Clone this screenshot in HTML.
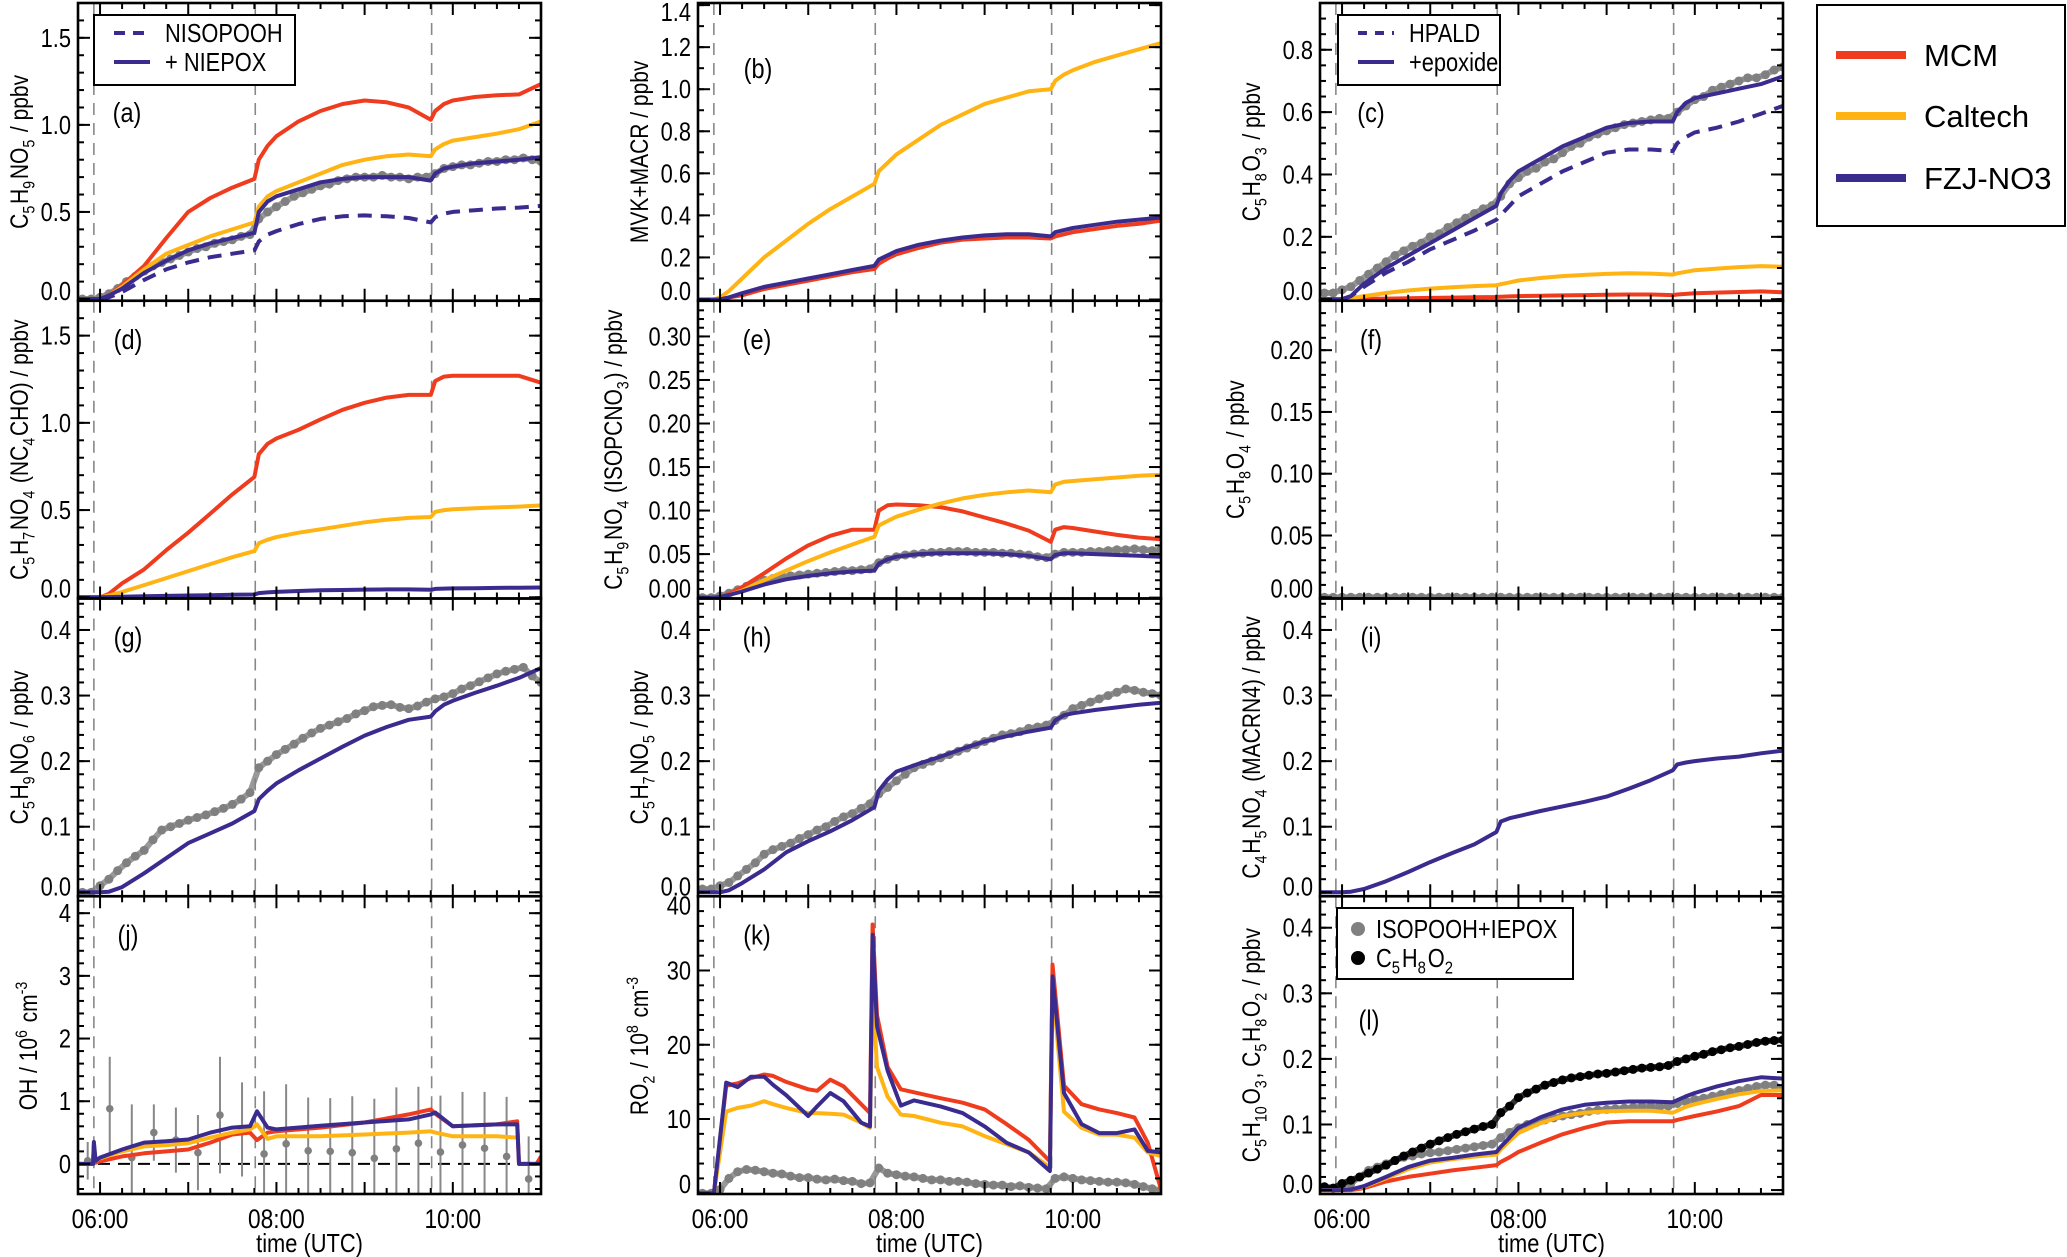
<!DOCTYPE html>
<html><head><meta charset="utf-8"><style>
html,body{margin:0;padding:0;background:#fff;}
svg{display:block;font-family:"Liberation Sans",Arial,sans-serif;}
</style></head><body>
<svg id="fig" xmlns="http://www.w3.org/2000/svg" width="2067" height="1257" viewBox="0 0 2067 1257">
<g>
<rect x="1817" y="5" width="248" height="221" fill="#fff" stroke="#000" stroke-width="2"/>
<line x1="1836" y1="55" x2="1906" y2="55" stroke="#f03c1e" stroke-width="8"/>
<text class="nc" x="1924" y="66" font-size="31">MCM</text>
<line x1="1836" y1="116" x2="1906" y2="116" stroke="#ffb414" stroke-width="8"/>
<text class="nc" x="1924" y="127" font-size="31">Caltech</text>
<line x1="1836" y1="178" x2="1906" y2="178" stroke="#3a2b8f" stroke-width="8"/>
<text class="nc" x="1924" y="189" font-size="31">FZJ-NO3</text>
</g>
</svg>
<script>
// ---- shared time arrays (hours UTC) ----
const T_MOD=[5.75,5.93,6.0,6.1,6.25,6.5,6.75,7.0,7.25,7.5,7.75,7.8,7.9,8.0,8.25,8.5,8.75,9.0,9.25,9.5,9.75,9.8,9.9,10.0,10.25,10.5,10.75,11.0];
const T_M=[5.8,5.9,6.0,6.1,6.2,6.3,6.4,6.5,6.6,6.7,6.8,6.9,7.0,7.1,7.2,7.3,7.4,7.5,7.6,7.7,7.8,7.9,8.0,8.1,8.2,8.3,8.4,8.5,8.6,8.7,8.8,8.9,9.0,9.1,9.2,9.3,9.4,9.5,9.6,9.7,9.8,9.9,10.0,10.1,10.2,10.3,10.4,10.5,10.6,10.7,10.8,10.9,11.0];
const DASH_T=[5.93,7.76,9.76];
const X_TICKS=[6,8,10];
const X_TICK_LABELS=["06:00","08:00","10:00"];
// (a)
const A_MCM=[0,0,0,0.02,0.08,0.19,0.35,0.50,0.58,0.64,0.69,0.80,0.88,0.935,1.02,1.08,1.12,1.14,1.13,1.10,1.03,1.08,1.12,1.14,1.16,1.17,1.175,1.235];
const A_CAL=[0,0,0,0.02,0.07,0.17,0.26,0.31,0.36,0.40,0.44,0.53,0.59,0.62,0.67,0.72,0.77,0.80,0.82,0.83,0.82,0.86,0.89,0.91,0.93,0.95,0.975,1.02];
const A_FZJ=[0,0,0,0.02,0.06,0.15,0.22,0.28,0.32,0.35,0.38,0.50,0.56,0.59,0.63,0.67,0.69,0.70,0.70,0.70,0.68,0.72,0.75,0.76,0.78,0.79,0.80,0.815];
const A_ALT=[0,0,0,0.01,0.04,0.11,0.17,0.21,0.24,0.26,0.28,0.33,0.37,0.39,0.43,0.46,0.475,0.48,0.475,0.465,0.44,0.47,0.49,0.50,0.51,0.52,0.525,0.535];
const A_MEAS=[0,0,0.01,0.03,0.06,0.10,0.13,0.16,0.19,0.21,0.23,0.25,0.27,0.29,0.30,0.32,0.33,0.34,0.36,0.37,0.46,0.50,0.53,0.56,0.59,0.61,0.63,0.65,0.66,0.68,0.69,0.70,0.70,0.70,0.71,0.70,0.70,0.69,0.70,0.70,0.72,0.75,0.76,0.77,0.77,0.78,0.79,0.79,0.80,0.80,0.81,0.80,0.79];
// (b)
const B_MCM=[0,0,0,0.01,0.02,0.05,0.07,0.09,0.11,0.13,0.145,0.17,0.195,0.215,0.245,0.27,0.285,0.29,0.295,0.295,0.29,0.30,0.31,0.32,0.335,0.35,0.36,0.375];
const B_CAL=[0,0,0.01,0.04,0.10,0.20,0.28,0.36,0.43,0.49,0.55,0.61,0.65,0.69,0.76,0.83,0.88,0.93,0.96,0.99,1.00,1.04,1.07,1.09,1.13,1.16,1.19,1.22];
const B_FZJ=[0,0,0,0.01,0.03,0.06,0.08,0.10,0.12,0.14,0.16,0.19,0.21,0.23,0.26,0.28,0.295,0.305,0.31,0.31,0.30,0.32,0.33,0.34,0.355,0.37,0.38,0.39];
// (c)
const C_MCM=[0,0,0,0,0.001,0.002,0.003,0.004,0.005,0.006,0.007,0.008,0.009,0.01,0.011,0.012,0.013,0.014,0.015,0.015,0.013,0.015,0.017,0.019,0.021,0.023,0.025,0.022];
const C_CAL=[0,0,0,0.003,0.01,0.02,0.028,0.034,0.038,0.042,0.045,0.048,0.054,0.06,0.068,0.074,0.078,0.081,0.083,0.082,0.079,0.083,0.088,0.093,0.098,0.103,0.106,0.104];
const C_FZJ=[0,0,0,0.01,0.05,0.10,0.14,0.18,0.22,0.26,0.30,0.34,0.38,0.41,0.45,0.49,0.52,0.55,0.565,0.57,0.57,0.60,0.63,0.645,0.66,0.675,0.69,0.715];
const C_ALT=[0,0,0,0.01,0.04,0.085,0.12,0.16,0.19,0.22,0.255,0.27,0.30,0.33,0.37,0.41,0.44,0.47,0.48,0.48,0.475,0.50,0.52,0.535,0.55,0.57,0.595,0.62];
const C_MEAS=[0.02,0.02,0.03,0.04,0.06,0.08,0.10,0.12,0.14,0.155,0.17,0.18,0.20,0.21,0.23,0.245,0.26,0.275,0.29,0.30,0.33,0.37,0.39,0.41,0.42,0.44,0.45,0.47,0.49,0.50,0.52,0.53,0.54,0.55,0.56,0.565,0.57,0.575,0.58,0.58,0.60,0.62,0.64,0.65,0.67,0.68,0.69,0.70,0.71,0.71,0.72,0.735,0.745];
// (d)
const D_MCM=[0,0,0,0.02,0.08,0.16,0.27,0.37,0.48,0.59,0.69,0.82,0.88,0.91,0.96,1.02,1.075,1.115,1.145,1.16,1.16,1.24,1.265,1.27,1.27,1.27,1.27,1.23];
const D_CAL=[0,0,0,0.01,0.03,0.07,0.11,0.15,0.19,0.23,0.265,0.31,0.33,0.345,0.37,0.39,0.41,0.43,0.445,0.455,0.46,0.49,0.50,0.505,0.51,0.515,0.52,0.527];
const D_FZJ=[0,0,0,0.001,0.003,0.006,0.008,0.01,0.012,0.014,0.016,0.024,0.028,0.031,0.036,0.04,0.042,0.044,0.045,0.045,0.043,0.048,0.05,0.051,0.052,0.054,0.055,0.056];
// (e)
const E_MCM=[0,0,0.001,0.004,0.012,0.028,0.045,0.06,0.071,0.078,0.078,0.100,0.106,0.107,0.106,0.104,0.099,0.092,0.085,0.077,0.064,0.078,0.081,0.080,0.076,0.072,0.069,0.067];
const E_CAL=[0,0,0.001,0.003,0.008,0.02,0.031,0.042,0.052,0.061,0.07,0.083,0.088,0.093,0.101,0.108,0.114,0.118,0.121,0.123,0.121,0.130,0.133,0.134,0.136,0.138,0.140,0.141];
const E_FZJ=[0,0,0.001,0.003,0.007,0.015,0.021,0.025,0.028,0.030,0.031,0.039,0.044,0.047,0.050,0.051,0.051,0.051,0.050,0.048,0.044,0.049,0.051,0.051,0.050,0.049,0.048,0.047];
const E_MEAS=[0,0,0.002,0.005,0.009,0.013,0.017,0.02,0.022,0.024,0.025,0.026,0.027,0.028,0.029,0.030,0.031,0.031,0.032,0.033,0.040,0.044,0.047,0.049,0.050,0.051,0.052,0.052,0.053,0.053,0.053,0.052,0.052,0.052,0.051,0.051,0.050,0.049,0.047,0.046,0.050,0.052,0.052,0.052,0.053,0.053,0.054,0.055,0.055,0.056,0.055,0.054,0.055];
// (f)
const F_MEAS=[0,0,0,0,0,0,0,0,0,0,0,0,0,0,0,0,0,0,0,0,0,0,0,0,0,0,0,0,0,0,0,0,0,0,0,0,0,0,0,0,0,0,0,0,0,0,0,0,0,0,0,0,0];
// (g)
const G_FZJ=[0,0,0,0.001,0.008,0.029,0.052,0.075,0.09,0.105,0.124,0.142,0.155,0.166,0.186,0.204,0.222,0.239,0.252,0.263,0.268,0.276,0.286,0.292,0.304,0.315,0.327,0.342];
const G_MEAS=[0,0,0.01,0.02,0.033,0.045,0.055,0.064,0.08,0.095,0.10,0.105,0.11,0.114,0.118,0.123,0.128,0.134,0.142,0.152,0.19,0.20,0.21,0.218,0.226,0.235,0.243,0.25,0.255,0.26,0.265,0.272,0.277,0.283,0.285,0.286,0.282,0.28,0.284,0.29,0.295,0.298,0.303,0.31,0.315,0.321,0.327,0.333,0.337,0.34,0.343,0.33,0.32];
// (h)
const H_FZJ=[0,0,0,0.003,0.014,0.035,0.061,0.078,0.093,0.11,0.13,0.155,0.172,0.184,0.196,0.207,0.219,0.23,0.238,0.245,0.251,0.262,0.27,0.273,0.278,0.282,0.286,0.289];
const H_MEAS=[0.005,0.005,0.01,0.015,0.025,0.035,0.045,0.058,0.065,0.07,0.075,0.082,0.088,0.095,0.10,0.108,0.115,0.12,0.128,0.135,0.15,0.16,0.17,0.18,0.19,0.195,0.20,0.205,0.21,0.215,0.22,0.225,0.23,0.235,0.24,0.242,0.245,0.25,0.252,0.255,0.262,0.27,0.28,0.285,0.29,0.295,0.30,0.305,0.31,0.308,0.305,0.303,0.30];
// (i)
const I_FZJ=[0,0,0,0.001,0.005,0.017,0.031,0.046,0.06,0.073,0.092,0.108,0.113,0.116,0.124,0.131,0.138,0.146,0.158,0.171,0.186,0.195,0.198,0.200,0.204,0.207,0.212,0.216];
// (j) OH
const T_OH=[5.75,5.92,5.93,5.95,6.0,6.25,6.5,6.75,7.0,7.25,7.5,7.7,7.78,7.9,8.0,8.5,9.0,9.5,9.75,9.8,10.0,10.5,10.73,10.75,10.95,11.0];
const J_FZJ=[0,0,0.35,0.05,0.1,0.23,0.34,0.36,0.39,0.5,0.58,0.6,0.84,0.58,0.55,0.61,0.66,0.71,0.79,0.82,0.6,0.63,0.63,0,0,0];
const J_MCM=[0,0,0.3,0.02,0.04,0.12,0.17,0.2,0.23,0.34,0.47,0.5,0.38,0.5,0.52,0.58,0.66,0.79,0.87,0.8,0.6,0.63,0.68,0,0,0.12];
const J_CAL=[0,0,0.3,0.05,0.09,0.2,0.28,0.3,0.33,0.42,0.5,0.55,0.63,0.4,0.44,0.44,0.47,0.5,0.52,0.5,0.44,0.44,0.42,null,null,null];
const J_MEAS_T=[5.86,6.11,6.36,6.61,6.86,7.11,7.36,7.61,7.86,8.11,8.36,8.61,8.86,9.11,9.36,9.61,9.86,10.11,10.36,10.61,10.86];
const J_MEAS=[0.05,0.88,0.1,0.5,0.38,0.18,0.78,0.55,0.16,0.32,0.21,0.2,0.18,0.09,0.24,0.33,0.19,0.3,0.25,0.12,-0.24];
const J_ERR=[0.3,0.83,0.85,0.45,0.52,0.6,0.93,0.75,1.0,0.95,0.85,0.85,0.9,0.95,0.98,0.9,0.9,0.85,0.9,0.95,0.68];
// (k) RO2
const T_RO2=[5.75,5.93,6.07,6.2,6.35,6.5,6.6,6.75,7.0,7.1,7.25,7.4,7.6,7.7,7.73,7.78,7.9,8.05,8.2,8.5,8.75,9.0,9.25,9.5,9.74,9.77,9.9,10.1,10.3,10.5,10.7,10.85,11.0];
const K_FZJ=[0,0,14.9,14.3,15.7,15.7,14.6,13.2,10.4,11.7,13.5,12.4,9.5,9.0,34.8,22.5,16.5,11.8,12.5,11.7,10.8,9.0,6.8,5.5,3.0,29.2,13.5,9.3,8.1,8.1,8.6,5.7,5.5];
const K_MCM=[0,0,14.5,14.8,15.5,16.0,15.8,15.0,14.0,13.8,15.3,14.4,12.0,10.8,36.2,24,17,14,13.6,12.8,12.2,11.3,9.3,7.2,4.3,30.8,14.5,12.0,11.3,10.8,10.2,6.8,0.5];
const K_CAL=[0,0,11.0,11.5,11.8,12.4,12.0,11.5,10.8,10.8,10.7,10.6,9.5,8.8,27.5,17,13,10.6,10.4,9.5,9.0,7.7,6.6,5.5,3.5,28,11,8.8,7.9,7.9,7.5,5.5,5.0];
const K_MEAS=[0,0,0.5,2.0,2.9,3.2,3.1,2.9,2.7,2.6,2.3,2.1,2.1,1.9,1.8,1.9,1.7,1.6,1.3,1.4,3.4,2.7,2.5,2.3,2.2,2.0,1.8,1.8,1.6,1.6,1.5,1.3,1.2,1.1,1.1,0.9,1.0,0.8,0.7,0.6,2.0,2.2,2.0,1.8,1.7,1.6,1.5,1.5,1.4,1.2,0.9,0.6,0.4];
// (l)
const L_MCM=[0,0,0,0,0.003,0.013,0.02,0.025,0.03,0.034,0.038,0.043,0.05,0.058,0.072,0.085,0.095,0.103,0.105,0.105,0.105,0.107,0.11,0.113,0.12,0.128,0.145,0.145];
const L_CAL=[0,0,0,0.001,0.005,0.018,0.032,0.042,0.047,0.051,0.054,0.062,0.075,0.087,0.102,0.113,0.118,0.120,0.121,0.121,0.118,0.121,0.127,0.131,0.139,0.146,0.151,0.152];
const L_FZJ=[0,0,0,0.001,0.006,0.02,0.035,0.045,0.049,0.054,0.058,0.066,0.08,0.095,0.111,0.123,0.13,0.133,0.135,0.135,0.134,0.137,0.143,0.148,0.158,0.166,0.172,0.17];
const L_MEAS=[0.005,0.003,0.005,0.01,0.02,0.03,0.035,0.04,0.045,0.05,0.052,0.055,0.057,0.058,0.06,0.062,0.064,0.066,0.068,0.07,0.08,0.088,0.095,0.1,0.103,0.107,0.11,0.113,0.115,0.117,0.12,0.122,0.123,0.124,0.125,0.126,0.127,0.127,0.127,0.128,0.132,0.135,0.138,0.14,0.143,0.146,0.149,0.152,0.155,0.158,0.16,0.16,0.155];
const L_MEAS2=[0.005,0.003,0.01,0.015,0.02,0.026,0.032,0.038,0.045,0.052,0.058,0.064,0.07,0.075,0.08,0.085,0.089,0.093,0.097,0.1,0.118,0.128,0.141,0.148,0.154,0.16,0.164,0.168,0.171,0.173,0.175,0.177,0.178,0.18,0.182,0.184,0.186,0.187,0.188,0.19,0.196,0.2,0.204,0.207,0.211,0.214,0.217,0.219,0.222,0.225,0.227,0.228,0.229];

const RED="#f03c1e", YEL="#ffb414", BLU="#3a2b8f", GRY="#808080";
const COL=[78,698,1320], W=463, TOP=[3,300.75,598.5,896.25], H=297.75;
const NS="http://www.w3.org/2000/svg";
const SQ=0.84;
const svg=document.getElementById('fig');
function mk(tag,attrs,parent){const e=document.createElementNS(NS,tag);for(const k in attrs)e.setAttribute(k,attrs[k]);(parent||svg).appendChild(e);return e;}
function richText(parent,str,fs){
  const re=/([_^])(-?\d+)|([^_^]+)/g;let m;
  while((m=re.exec(str))){
    if(m[3]){const s=mk('tspan',{},parent);s.textContent=m[3];}
    else{const sub=m[1]==='_';const d=sub?fs*0.25:-fs*0.4;
      const s=mk('tspan',{dy:d,'font-size':fs*0.68},parent);s.textContent=m[2];
      const r=mk('tspan',{dy:-d},parent);r.textContent='\u200a';}
  }
}
// compressed text: place via transform
function ctext(parent,x,y,attrs){const a=Object.assign({x:0,y:0,transform:'translate('+x+','+y+') scale('+SQ+',1)'},attrs);return mk('text',a,parent);}
const panels=[
 {id:'a',r:0,c:0,y:[-0.01,1.70],ticks:[0,0.5,1.0,1.5],dec:1,minor:0.1,title:'C_5H_9NO_5 / ppbv',tx:20,lab:[49,109],
  meas:[T_M,A_MEAS],lines:[[T_MOD,A_MCM,RED,''],[T_MOD,A_CAL,YEL,''],[T_MOD,A_ALT,BLU,'14 9'],[T_MOD,A_FZJ,BLU,'']]},
 {id:'b',r:0,c:1,y:[-0.006,1.41],ticks:[0,0.2,0.4,0.6,0.8,1.0,1.2,1.4],dec:1,minor:0.1,title:'MVK+MACR / ppbv',tx:640,lab:[60,65],
  lines:[[T_MOD,B_CAL,YEL,''],[T_MOD,B_MCM,RED,''],[T_MOD,B_FZJ,BLU,'']]},
 {id:'c',r:0,c:2,y:[-0.005,0.95],ticks:[0,0.2,0.4,0.6,0.8],dec:1,minor:0.05,title:'C_5H_8O_3 / ppbv',tx:1252,lab:[51,109],
  meas:[T_M,C_MEAS],lines:[[T_MOD,C_MCM,RED,''],[T_MOD,C_CAL,YEL,''],[T_MOD,C_ALT,BLU,'14 9'],[T_MOD,C_FZJ,BLU,'']]},
 {id:'d',r:1,c:0,y:[-0.007,1.70],ticks:[0,0.5,1.0,1.5],dec:1,minor:0.1,title:'C_5H_7NO_4 (NC_4CHO) / ppbv',tx:20,lab:[50,38],
  lines:[[T_MOD,D_MCM,RED,''],[T_MOD,D_CAL,YEL,''],[T_MOD,D_FZJ,BLU,'']]},
 {id:'e',r:1,c:1,y:[-0.001,0.341],ticks:[0,0.05,0.10,0.15,0.20,0.25,0.30],dec:2,minor:0.01,title:'C_5H_9NO_4 (ISOPCNO_3) / ppbv',tx:614,lab:[59,38],
  meas:[T_M,E_MEAS],lines:[[T_MOD,E_MCM,RED,''],[T_MOD,E_CAL,YEL,''],[T_MOD,E_FZJ,BLU,'']]},
 {id:'f',r:1,c:2,y:[-0.001,0.24],ticks:[0,0.05,0.10,0.15,0.20],dec:2,minor:0.01,title:'C_5H_8O_4 / ppbv',tx:1236,lab:[51,38],
  meas:[T_M,F_MEAS],lines:[]},
 {id:'g',r:2,c:0,y:[-0.006,0.448],ticks:[0,0.1,0.2,0.3,0.4],dec:1,minor:0.02,title:'C_5H_9NO_6 / ppbv',tx:20,lab:[50,38],
  meas:[T_M,G_MEAS],lines:[[T_MOD,G_FZJ,BLU,'']]},
 {id:'h',r:2,c:1,y:[-0.006,0.448],ticks:[0,0.1,0.2,0.3,0.4],dec:1,minor:0.02,title:'C_5H_7NO_5 / ppbv',tx:640,lab:[59,38],
  meas:[T_M,H_MEAS],lines:[[T_MOD,H_FZJ,BLU,'']]},
 {id:'i',r:2,c:2,y:[-0.006,0.448],ticks:[0,0.1,0.2,0.3,0.4],dec:1,minor:0.02,title:'C_4H_5NO_4 (MACRN4) / ppbv',tx:1252,lab:[51,38],
  lines:[[T_MOD,I_FZJ,BLU,'']]},
 {id:'j',r:3,c:0,y:[-0.48,4.27],ticks:[0,1,2,3,4],dec:0,minor:0.2,title:'OH / 10^6 cm^-3',tx:29,lab:[50,38],
  lines:[[T_OH,J_MCM,RED,''],[T_OH,J_CAL,YEL,''],[T_OH,J_FZJ,BLU,'']]},
 {id:'k',r:3,c:1,y:[-0.1,40],ticks:[0,10,20,30,40],dec:0,minor:2,title:'RO_2 / 10^8 cm^-3',tx:640,lab:[59,38],
  meas:[T_M,K_MEAS],lines:[[T_RO2,K_MCM,RED,''],[T_RO2,K_CAL,YEL,''],[T_RO2,K_FZJ,BLU,'']]},
 {id:'l',r:3,c:2,y:[-0.006,0.448],ticks:[0,0.1,0.2,0.3,0.4],dec:1,minor:0.02,title:'C_5H_10O_3, C_5H_8O_2 / ppbv',tx:1252,lab:[49,123],
  meas:[T_M,L_MEAS],meas2:[T_M,L_MEAS2],lines:[[T_MOD,L_MCM,RED,''],[T_MOD,L_CAL,YEL,''],[T_MOD,L_FZJ,BLU,'']]}
];
const defs=mk('defs',{});
panels.forEach(p=>{
  const L=COL[p.c], T=TOP[p.r], R=L+W, B=T+H;
  const X=t=>L+(t-5.75)*W/5.25;
  const Y=v=>B-(v-p.y[0])/(p.y[1]-p.y[0])*H;
  const cp=mk('clipPath',{id:'clip-'+p.id},defs);mk('rect',{x:L,y:T,width:W,height:H},cp);
  const g=mk('g',{});
  
  
  const plot=mk('g',{'clip-path':'url(#clip-'+p.id+')'},g);
  DASH_T.forEach(t=>{const l=mk('line',{x1:X(t),x2:X(t),y1:T,y2:B,stroke:'#888','stroke-width':1.6,'stroke-dasharray':'12 8'},plot);
    
    });
  if(p.id==='j'){const z=mk('line',{x1:L,x2:R,y1:Y(0),y2:Y(0),stroke:'#000','stroke-width':2,'stroke-dasharray':'12 8'},plot);
    
    
    J_MEAS_T.forEach((t,i)=>{
      const e=mk('line',{x1:X(t),x2:X(t),y1:Y(J_MEAS[i]-J_ERR[i]),y2:Y(J_MEAS[i]+J_ERR[i]),stroke:'#888','stroke-width':2},plot);
      
      
      const c=mk('circle',{cx:X(t),cy:Y(J_MEAS[i]),r:3.8,fill:GRY},plot);
      
      });
  }
  const drawMeas=(m,col,nm)=>{
    const [ts,vs]=m;
    const pl=mk('polyline',{points:ts.map((t,i)=>X(t)+','+Y(vs[i])).join(' '),fill:'none',stroke:col,'stroke-width':6,'stroke-opacity':0.8},plot);
    
    
    ts.forEach((t,i)=>{const c=mk('circle',{cx:X(t),cy:Y(vs[i]),r:4.5,fill:col},plot);
      
      });
  };
  if(p.meas)drawMeas(p.meas,GRY,'measured-'+p.id);
  if(p.meas2)drawMeas(p.meas2,'#000','measured2-'+p.id);
  p.lines.forEach((ln,k)=>{
    const [ts,vs,col,dash]=ln;let d='',pen=false;
    ts.forEach((t,i)=>{if(vs[i]==null){pen=false;return;}d+=(pen?'L':'M')+X(t).toFixed(1)+','+Y(vs[i]).toFixed(1);pen=true;});
    const a={d:d,fill:'none',stroke:col,'stroke-width':4,'stroke-linejoin':'round'};if(dash)a['stroke-dasharray']=dash;
    const path=mk('path',a,plot);
    
    
  });
  mk('rect',{x:L,y:T,width:W,height:H,fill:'none',stroke:'#000','stroke-width':2.6},g);
  for(let q=23;q<=44;q++){const t=q/4;const x=X(t);if(x<L+1||x>R-1)continue;const len=(q%4===0)?12:6;
    mk('line',{x1:x,x2:x,y1:B,y2:B-len,stroke:'#000','stroke-width':2},g);mk('line',{x1:x,x2:x,y1:T,y2:T+len,stroke:'#000','stroke-width':2},g);}
  for(let v=Math.ceil(p.y[0]/p.minor)*p.minor;v<=p.y[1]+1e-9;v+=p.minor){const y=Y(v);if(y<T+1||y>B-1)continue;
    mk('line',{x1:L,x2:L+6,y1:y,y2:y,stroke:'#000','stroke-width':2},g);mk('line',{x1:R,x2:R-6,y1:y,y2:y,stroke:'#000','stroke-width':2},g);}
  p.ticks.forEach(v=>{const y=Y(v);
    mk('line',{x1:L,x2:L+12,y1:y,y2:y,stroke:'#000','stroke-width':2},g);mk('line',{x1:R,x2:R-12,y1:y,y2:y,stroke:'#000','stroke-width':2},g);
    const tl=ctext(g,L-7,Math.min(Math.max(y,T+9),B-10)+9,{'font-size':26,'text-anchor':'end'});tl.textContent=v.toFixed(p.dec);
    
    });
  const cy=T+H/2;
  const yt=mk('text',{x:0,y:0,'font-size':25,'text-anchor':'middle',transform:'translate('+(p.tx+8)+','+cy+') rotate(-90) scale('+SQ+',1)'},g);
  richText(yt,p.title,25);
  
  
  const pl=ctext(g,L+p.lab[0],T+p.lab[1]+10,{'font-size':28,'text-anchor':'middle'});pl.textContent='('+p.id+')';
  
  
  if(p.r===3){
    X_TICKS.forEach((t,i)=>{const xl=ctext(g,X(t),1228,{'font-size':27,'text-anchor':'middle'});xl.textContent=X_TICK_LABELS[i];
      
      });
    const xt=ctext(g,L+W/2,1252,{'font-size':26,'text-anchor':'middle'});xt.textContent='time (UTC)';
    
    
  }
});
function smallLegend(x,y,w,h,items,name){
  const g=mk('g',{});
  
  
  mk('rect',{x:x,y:y,width:w,height:h,fill:'#fff',stroke:'#000','stroke-width':2},g);
  items.forEach((it,i)=>{const yy=y+18+i*29;
    if(it.dot)mk('circle',{cx:x+21,cy:yy+3,r:7,fill:it.dot},g);
    else{const a={x1:x+20,x2:x+56,y1:yy,y2:yy,stroke:BLU,'stroke-width':4};if(it.dash)a['stroke-dasharray']=it.dash;mk('line',a,g);}
    const t=ctext(g,x+(it.dot?39:71),yy+9+(it.dot?3:0),{'font-size':26});richText(t,it.label,26);
    
    });
}
smallLegend(94,15,201,70,[{label:'NISOPOOH',dash:'11 8'},{label:'+ NIEPOX'}],'legend-a');
smallLegend(1338,15,162,70,[{label:'HPALD',dash:'9 8'},{label:'+epoxide'}],'legend-c');
smallLegend(1337,908,236,71,[{label:'ISOPOOH+IEPOX',dot:GRY},{label:'C_5H_8O_2',dot:'#000'}],'legend-l');
</script>
</body></html>
